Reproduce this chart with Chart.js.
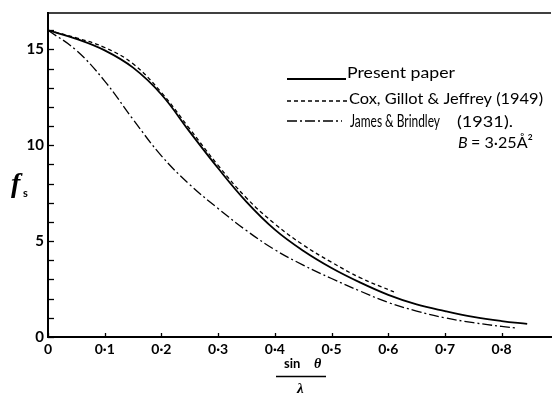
<!DOCTYPE html>
<html>
<head>
<meta charset="utf-8">
<script src="https://cdn.jsdelivr.net/npm/chart.js@4.4.0/dist/chart.umd.min.js"></script>
<style>
  html, body { margin: 0; padding: 0; background: #fff; }
  #wrap { width: 552px; height: 393px; }
</style>
</head>
<body>
<div id="wrap"><canvas id="myChart"></canvas></div>
<script>
// values (sin(theta)/lambda vs f_s)
var presentX = [0, 0.05, 0.1, 0.15, 0.2, 0.25, 0.3, 0.35, 0.4, 0.45, 0.5, 0.55, 0.6, 0.65, 0.7, 0.75, 0.8, 0.845];
var presentY = [16.0, 15.55, 14.95, 14.05, 12.65, 10.7, 8.8, 7.05, 5.6, 4.5, 3.6, 2.85, 2.2, 1.7, 1.35, 1.05, 0.83, 0.68];

var coxX = [0, 0.05, 0.1, 0.15, 0.2, 0.25, 0.3, 0.35, 0.4, 0.45, 0.5, 0.55, 0.61];
var coxY = [16.0, 15.6, 15.1, 14.25, 12.75, 10.85, 8.95, 7.25, 5.9, 4.8, 3.9, 3.1, 2.35];

var jamesX = [0, 0.05, 0.1, 0.15, 0.2, 0.25, 0.3, 0.35, 0.4, 0.45, 0.5, 0.55, 0.6, 0.65, 0.7, 0.75, 0.8, 0.825];
var jamesY = [16.0, 14.95, 13.35, 11.35, 9.45, 7.95, 6.7, 5.55, 4.55, 3.75, 3.05, 2.4, 1.8, 1.35, 1.0, 0.75, 0.55, 0.47];

var xTicks = [0, 0.1, 0.2, 0.3, 0.4, 0.5, 0.6, 0.7, 0.8];
var xTickLabels = ['0', '0·1', '0·2', '0·3', '0·4', '0·5', '0·6', '0·7', '0·8'];
var yTicks = [0, 1, 2, 3, 4, 5, 6, 7, 8, 9, 10, 11, 12, 13, 14, 15, 16];
var yTickLabels = { 0: '0', 5: '5', 10: '10', 15: '15' };

var seriesNames = ['Present paper', 'Cox, Gillot & Jeffrey (1949)', 'James & Brindley  (1931).'];

function pts(xs, ys) {
  return xs.map(function (x, i) { return { x: x, y: ys[i] }; });
}

var dashes = [[], [4, 3], [10, 3, 2, 3]];

// draw text stretched/squeezed to a given width
function fitText(ctx, text, x, y, w) {
  var m = ctx.measureText(text).width;
  ctx.save();
  ctx.translate(x, y);
  ctx.scale(w / m, 1);
  ctx.fillText(text, 0, 0);
  ctx.restore();
}

var paperBits = {
  id: 'paperBits',
  afterDraw: function (chart) {
    var ctx = chart.ctx;
    var a = chart.chartArea;
    var xs = chart.scales.x, ys = chart.scales.y;
    ctx.save();
    ctx.strokeStyle = '#000';
    ctx.fillStyle = '#000';

    // top frame line
    ctx.lineWidth = 1.5;
    ctx.beginPath();
    ctx.moveTo(a.left, a.top);
    ctx.lineTo(a.right, a.top);
    ctx.stroke();

    // inward tick marks
    ctx.lineWidth = 1.3;
    yTicks.forEach(function (v) {
      var p = Math.round(ys.getPixelForValue(v)) + 0.5;
      ctx.beginPath();
      ctx.moveTo(a.left, p);
      ctx.lineTo(a.left + 6, p);
      ctx.stroke();
    });
    xTicks.forEach(function (v) {
      var p = Math.round(xs.getPixelForValue(v)) + 0.5;
      ctx.beginPath();
      ctx.moveTo(p, a.bottom);
      ctx.lineTo(p, a.bottom - 4);
      ctx.stroke();
    });

    // legend
    var rows = [
      { y: 79, x0: 287, x1: 346, tx: 347, ty: 78, w: 108 },
      { y: 101, x0: 287, x1: 347, tx: 349, ty: 104, w: 194 },
      { y: 121, x0: 287, x1: 342 }
    ];
    ctx.font = '16px Lato';
    ctx.textBaseline = 'alphabetic';
    ctx.textAlign = 'left';
    rows.forEach(function (r, i) {
      ctx.lineWidth = i === 0 ? 1.8 : 1.3;
      ctx.setLineDash(dashes[i]);
      ctx.beginPath();
      ctx.moveTo(r.x0, r.y);
      ctx.lineTo(r.x1, r.y);
      ctx.stroke();
      ctx.setLineDash([]);
      if (r.w) fitText(ctx, seriesNames[i], r.tx, r.ty, r.w);
    });
    var jb = seriesNames[2].split('  ');
    ctx.font = '18px Lato';
    fitText(ctx, jb[0], 350, 127, 90);
    ctx.font = '16px Lato';
    fitText(ctx, jb[1], 457, 127, 56);

    ctx.font = 'italic 16px Lato';
    ctx.fillText('B', 458, 148);
    ctx.font = '16px Lato';
    fitText(ctx, '= 3·25Å²', 471, 148, 62);

    // y axis title f_s
    ctx.font = 'italic bold 28px "Liberation Serif"';
    ctx.fillText('f', 11, 192);
    ctx.font = 'bold 11px Lato';
    ctx.fillText('s', 23, 197);

    // x axis title sin theta / lambda
    ctx.font = 'bold 13px Lato';
    ctx.fillText('sin', 284, 368);
    ctx.font = 'italic bold 14px "Liberation Serif"';
    ctx.fillText('θ', 314, 368);
    ctx.lineWidth = 1.3;
    ctx.beginPath();
    ctx.moveTo(276, 376.5);
    ctx.lineTo(326, 376.5);
    ctx.stroke();
    ctx.font = 'italic bold 15px "Liberation Serif"';
    ctx.fillText('λ', 297, 393);
    ctx.restore();
  }
};

var ctx = document.getElementById('myChart').getContext('2d');
var myChart = new Chart(ctx, {
  type: 'line',
  data: {
    datasets: [
      { label: seriesNames[0], data: pts(presentX, presentY), borderColor: '#000', borderWidth: 1.8, borderDash: dashes[0] },
      { label: seriesNames[1], data: pts(coxX, coxY), borderColor: '#000', borderWidth: 1.3, borderDash: dashes[1] },
      { label: seriesNames[2], data: pts(jamesX, jamesY), borderColor: '#000', borderWidth: 1.3, borderDash: dashes[2] }
    ]
  },
  options: {
    responsive: true,
    maintainAspectRatio: false,
    animation: false,
    layout: { padding: { top: 12, right: 1, left: 0, bottom: 0 } },
    elements: {
      point: { radius: 0 },
      line: { tension: 0.4, fill: false }
    },
    plugins: { legend: { display: false }, tooltip: { enabled: false } },
    scales: {
      x: {
        type: 'linear',
        min: 0,
        max: 0.887,
        afterFit: function (s) { s.height = 56; },
        afterBuildTicks: function (s) { s.ticks = xTicks.map(function (v) { return { value: v }; }); },
        grid: { display: false, drawTicks: false },
        border: { display: true, color: '#000', width: 2 },
        ticks: {
          padding: 4,
          color: '#000',
          font: { family: 'Lato', weight: 'bold', size: 14 },
          callback: function (v) { var i = xTicks.indexOf(Math.round(v * 10) / 10); return i >= 0 ? xTickLabels[i] : ''; }
        }
      },
      y: {
        type: 'linear',
        min: 0,
        max: 16.9,
        afterFit: function (s) { s.width = 48; },
        afterBuildTicks: function (s) { s.ticks = yTicks.map(function (v) { return { value: v }; }); },
        grid: { display: false, drawTicks: false },
        border: { display: true, color: '#000', width: 2 },
        ticks: {
          padding: 4,
          color: '#000',
          autoSkip: false,
          font: { family: 'Lato', weight: 'bold', size: 15 },
          callback: function (v) { return yTickLabels[v] !== undefined ? yTickLabels[v] : ''; }
        }
      }
    }
  },
  plugins: [paperBits]
});
</script>
</body>
</html>
